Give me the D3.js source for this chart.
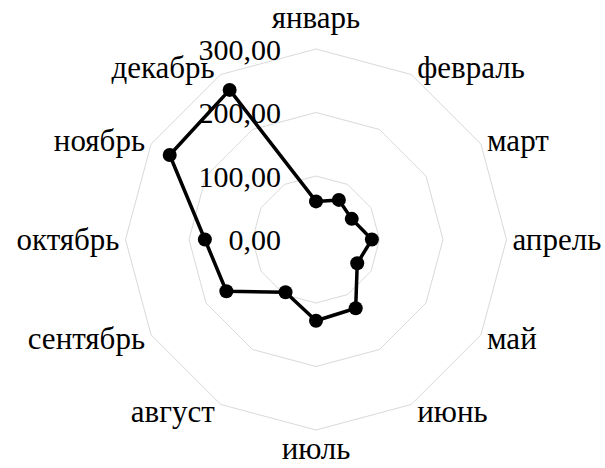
<!DOCTYPE html>
<html>
<head>
<meta charset="utf-8">
<script src="https://cdn.jsdelivr.net/npm/d3@7"></script>
<style>
  html, body { margin: 0; padding: 0; background: #fff; }
  svg text { font-family: "Liberation Serif", "Times New Roman", serif; fill: #000; }
</style>
</head>
<body>
<svg id="chart" width="605" height="468"></svg>
<script>
// Monthly values shown on the radar
const months = ["январь", "февраль", "март", "апрель", "май", "июнь",
                "июль", "август", "сентябрь", "октябрь", "ноябрь", "декабрь"];
const values = [60, 72, 65, 88, 75, 125, 128, 96, 163, 175, 266, 272];
const tickValues = [0, 100, 200, 300];
const tickLabels = ["0,00", "100,00", "200,00", "300,00"];

const width = 605, height = 468;
const cx = 316, cy = 239.5, outerR = 190.5;
const tickFont = 30, monthFont = 31;

const svg = d3.select("#chart");
const g = svg.append("g").attr("transform", `translate(${cx},${cy})`);

const r = d3.scaleLinear().domain([0, 300]).range([0, outerR]);
const angle = d3.scalePoint().domain(months).range([0, 2 * Math.PI * (11 / 12)]);

const px = (a, rad) => rad * Math.sin(a);
const py = (a, rad) => -rad * Math.cos(a);

// Polygonal grid rings
const ringLine = d3.lineRadial().angle(d => angle(d)).curve(d3.curveLinearClosed);
tickValues.filter(v => v > 0).forEach(v => {
  g.append("path")
    .attr("d", ringLine.radius(() => r(v))(months))
    .attr("fill", "none")
    .attr("stroke", "#d9d9d9")
    .attr("stroke-width", 1);
});

// Radial value labels, left of the vertical axis
g.selectAll(".tick-label")
  .data(tickValues)
  .join("text")
  .attr("class", "tick-label")
  .attr("x", -35)
  .attr("y", d => -r(d))
  .attr("dy", "0.35em")
  .attr("text-anchor", "end")
  .attr("font-size", tickFont)
  .text((d, i) => tickLabels[i]);

// Month labels around the outside
g.selectAll(".month-label")
  .data(months)
  .join("text")
  .attr("class", "month-label")
  .attr("font-size", monthFont)
  .each(function (m) {
    const a = angle(m);
    const s = Math.sin(a), c = Math.cos(a);
    const vx = px(a, outerR), vy = py(a, outerR);
    const t = d3.select(this);
    if (Math.abs(s) < 0.01) {
      t.attr("text-anchor", "middle")
       .attr("x", vx)
       .attr("y", c > 0 ? vy - 21 : vy + 29);
    } else {
      t.attr("text-anchor", s > 0 ? "start" : "end")
       .attr("x", vx + (s > 0 ? 6 : -6))
       .attr("y", vy + 10.5 - 8 * c);
    }
  })
  .text(d => d);

// Data line
const dataLine = d3.lineRadial()
  .angle((d, i) => angle(months[i]))
  .radius(d => r(d))
  .curve(d3.curveLinearClosed);

g.append("path")
  .attr("d", dataLine(values))
  .attr("fill", "none")
  .attr("stroke", "#000")
  .attr("stroke-width", 3.5)
  .attr("stroke-linejoin", "round");

g.selectAll(".marker")
  .data(values)
  .join("circle")
  .attr("class", "marker")
  .attr("cx", (d, i) => px(angle(months[i]), r(d)))
  .attr("cy", (d, i) => py(angle(months[i]), r(d)))
  .attr("r", 7)
  .attr("fill", "#000");
</script>
</body>
</html>
